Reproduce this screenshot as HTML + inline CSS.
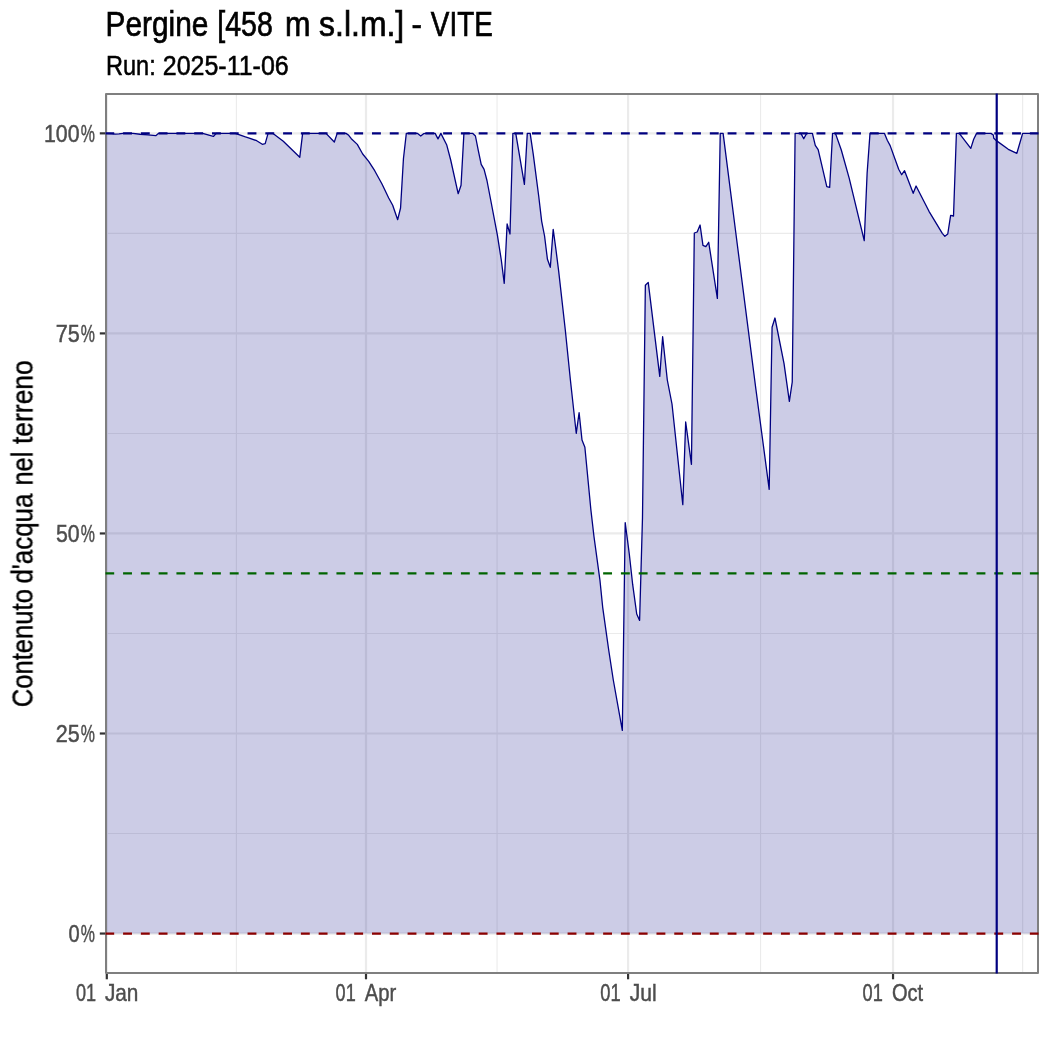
<!DOCTYPE html>
<html lang="it"><head><meta charset="utf-8"><title>Pergine [458 m s.l.m.] - VITE</title>
<style>
html,body{margin:0;padding:0;background:#fff;}
svg{display:block;}
text{font-family:'Liberation Sans', Arial, sans-serif;}
</style></head><body>
<svg width="1050" height="1050" viewBox="0 0 1050 1050">
<rect width="1050" height="1050" fill="#ffffff"/>
<defs><clipPath id="panel"><rect x="106.0" y="94.0" width="932.0" height="879.0"/></clipPath>
<clipPath id="panel2"><rect x="105.3" y="93.4" width="933.4" height="880.2"/></clipPath></defs>
<g clip-path="url(#panel)">
<g stroke="#ebebeb" stroke-width="1.1" fill="none">
<line x1="236.40" x2="236.40" y1="94.0" y2="973.0"/>
<line x1="497.04" x2="497.04" y1="94.0" y2="973.0"/>
<line x1="760.56" x2="760.56" y1="94.0" y2="973.0"/>
<line x1="1022.64" x2="1022.64" y1="94.0" y2="973.0"/>
<line x1="106.0" x2="1038.0" y1="833.52" y2="833.52"/>
<line x1="106.0" x2="1038.0" y1="633.47" y2="633.47"/>
<line x1="106.0" x2="1038.0" y1="433.43" y2="433.43"/>
<line x1="106.0" x2="1038.0" y1="233.38" y2="233.38"/>
</g><g stroke="#ebebeb" stroke-width="2.2" fill="none">
<line x1="106.80" x2="106.80" y1="94.0" y2="973.0"/>
<line x1="366.00" x2="366.00" y1="94.0" y2="973.0"/>
<line x1="628.08" x2="628.08" y1="94.0" y2="973.0"/>
<line x1="893.04" x2="893.04" y1="94.0" y2="973.0"/>
<line x1="106.0" x2="1038.0" y1="933.55" y2="933.55"/>
<line x1="106.0" x2="1038.0" y1="733.50" y2="733.50"/>
<line x1="106.0" x2="1038.0" y1="533.45" y2="533.45"/>
<line x1="106.0" x2="1038.0" y1="333.40" y2="333.40"/>
<line x1="106.0" x2="1038.0" y1="133.35" y2="133.35"/>
</g>
<path d="M106.0,133.35 L112,133.65 L115,134.15 L119,133.85 L123,133.35 L133,133.35 L140,134.25 L148,134.85 L155.76,135.65 L158.64,133.35 L202.7,133.35 L208,134.85 L213.36,136.45 L216.24,133.35 L235.3,133.35 L244.7,136.7 L250,138.3 L256.7,140.7 L262.32,144.3 L265.2,143.7 L268.08,133.35 L272.7,133.35 L283.3,141.3 L299.76,157.3 L302.64,133.35 L326,133.35 L334.32,142 L337.2,133.35 L346,133.35 L348.7,135.3 L351.3,138.7 L357.3,144.4 L362.7,154 L368.7,161.3 L374.7,170.7 L382,184 L388.7,198 L392.7,205.3 L397.68,219.7 L400.56,208 L403.44,158.7 L406.32,133.35 L417.3,133.35 L420.72,136 L423.6,133.65 L426,133.35 L435.12,133.35 L438.0,138.9 L440.88,133.35 L446.64,144.7 L450.7,160 L458.16,193.7 L461.04,185.3 L463.92,133.35 L472.56,133.35 L475.44,136 L478.32,150.7 L481.2,164.4 L484.08,169.3 L486.96,180.5 L490.7,200 L497.3,234.7 L501.3,260 L504.24,283.3 L507.12,224 L510.0,234 L512.88,133.35 L515.76,133.35 L524.4,184.4 L527.28,133.35 L530.16,133.35 L533.3,154.7 L538.7,196 L541.68,221.3 L544.56,236 L547.44,259.3 L550.32,267.3 L553.2,229.3 L556,250 L558.7,271.3 L565.3,330 L570.4,380 L576.24,433.3 L579.12,412.7 L582.0,440 L584.88,447.3 L590.9,510 L594,536.7 L600,580.7 L602.7,607.3 L608.7,650 L613.3,680 L622.32,730.4 L625.2,522.7 L629.3,554 L632.7,584.7 L636.72,614 L639.6,620.4 L642.48,518 L645.36,285.3 L648.24,282.4 L659.76,376.4 L662.64,336.7 L667.3,380 L672,404 L682.8,504.7 L685.68,422 L691.44,464.3 L694.32,233 L697.2,232 L700.08,225 L702.96,245.3 L705.84,246.7 L708.72,242.3 L717.36,298.4 L720.24,133.35 L723.12,133.35 L738,250 L756,390 L769.2,489.3 L772.08,327.3 L774.96,318 L784,363.3 L789.36,401.3 L792.24,382 L795.12,133.35 L800.88,133.35 L803.76,138.7 L806.64,133.35 L812.4,133.35 L815.28,145.3 L818.16,149.6 L826.8,186.7 L829.68,187.3 L832.56,133.35 L835.44,133.35 L841.3,150 L849.3,178.7 L864.24,240.7 L867.12,173.3 L870.0,133.35 L884.4,133.35 L887.28,140.3 L890.16,145.6 L898.7,169.3 L901.68,174.7 L904.56,170.7 L913.2,193.3 L916.08,186 L929,211.3 L942.3,233.3 L944.88,236.3 L947.76,234 L950.64,215.3 L953.52,216 L956.4,133.35 L959.28,133.35 L970.8,148.4 L973.68,139.3 L976.56,133.35 L990.96,133.35 L993.3,135 L993.84,138.3 L996.72,140.9 L1008.3,149.3 L1016.88,153.3 L1022.64,133.35 L1038.0,133.35 L1038.0,933.55 L106.0,933.55 Z" fill="#000080" fill-opacity="0.2" stroke="none"/>
<path d="M106.0,133.35 L112,133.65 L115,134.15 L119,133.85 L123,133.35 L133,133.35 L140,134.25 L148,134.85 L155.76,135.65 L158.64,133.35 L202.7,133.35 L208,134.85 L213.36,136.45 L216.24,133.35 L235.3,133.35 L244.7,136.7 L250,138.3 L256.7,140.7 L262.32,144.3 L265.2,143.7 L268.08,133.35 L272.7,133.35 L283.3,141.3 L299.76,157.3 L302.64,133.35 L326,133.35 L334.32,142 L337.2,133.35 L346,133.35 L348.7,135.3 L351.3,138.7 L357.3,144.4 L362.7,154 L368.7,161.3 L374.7,170.7 L382,184 L388.7,198 L392.7,205.3 L397.68,219.7 L400.56,208 L403.44,158.7 L406.32,133.35 L417.3,133.35 L420.72,136 L423.6,133.65 L426,133.35 L435.12,133.35 L438.0,138.9 L440.88,133.35 L446.64,144.7 L450.7,160 L458.16,193.7 L461.04,185.3 L463.92,133.35 L472.56,133.35 L475.44,136 L478.32,150.7 L481.2,164.4 L484.08,169.3 L486.96,180.5 L490.7,200 L497.3,234.7 L501.3,260 L504.24,283.3 L507.12,224 L510.0,234 L512.88,133.35 L515.76,133.35 L524.4,184.4 L527.28,133.35 L530.16,133.35 L533.3,154.7 L538.7,196 L541.68,221.3 L544.56,236 L547.44,259.3 L550.32,267.3 L553.2,229.3 L556,250 L558.7,271.3 L565.3,330 L570.4,380 L576.24,433.3 L579.12,412.7 L582.0,440 L584.88,447.3 L590.9,510 L594,536.7 L600,580.7 L602.7,607.3 L608.7,650 L613.3,680 L622.32,730.4 L625.2,522.7 L629.3,554 L632.7,584.7 L636.72,614 L639.6,620.4 L642.48,518 L645.36,285.3 L648.24,282.4 L659.76,376.4 L662.64,336.7 L667.3,380 L672,404 L682.8,504.7 L685.68,422 L691.44,464.3 L694.32,233 L697.2,232 L700.08,225 L702.96,245.3 L705.84,246.7 L708.72,242.3 L717.36,298.4 L720.24,133.35 L723.12,133.35 L738,250 L756,390 L769.2,489.3 L772.08,327.3 L774.96,318 L784,363.3 L789.36,401.3 L792.24,382 L795.12,133.35 L800.88,133.35 L803.76,138.7 L806.64,133.35 L812.4,133.35 L815.28,145.3 L818.16,149.6 L826.8,186.7 L829.68,187.3 L832.56,133.35 L835.44,133.35 L841.3,150 L849.3,178.7 L864.24,240.7 L867.12,173.3 L870.0,133.35 L884.4,133.35 L887.28,140.3 L890.16,145.6 L898.7,169.3 L901.68,174.7 L904.56,170.7 L913.2,193.3 L916.08,186 L929,211.3 L942.3,233.3 L944.88,236.3 L947.76,234 L950.64,215.3 L953.52,216 L956.4,133.35 L959.28,133.35 L970.8,148.4 L973.68,139.3 L976.56,133.35 L990.96,133.35 L993.3,135 L993.84,138.3 L996.72,140.9 L1008.3,149.3 L1016.88,153.3 L1022.64,133.35 L1038.0,133.35" fill="none" stroke="#000080" stroke-width="1.3" stroke-linejoin="round" stroke-linecap="butt"/>
</g>
<rect x="106.0" y="94.0" width="932.0" height="879.0" fill="none" stroke="#7f7f7f" stroke-width="2.0" stroke-linejoin="round"/>
<g clip-path="url(#panel2)">
<line x1="105.3" x2="1040.0" y1="133.35" y2="133.35" stroke="#000080" stroke-width="2.2" stroke-dasharray="8.89 8.89"/>
<line x1="105.3" x2="1040.0" y1="573.46" y2="573.46" stroke="#006400" stroke-width="2.2" stroke-dasharray="8.89 8.89"/>
<line x1="105.3" x2="1040.0" y1="933.55" y2="933.55" stroke="#8b0000" stroke-width="2.2" stroke-dasharray="8.89 8.89"/>
<line x1="996.72" x2="996.72" y1="92.0" y2="975.0" stroke="#000080" stroke-width="2.2"/>
</g>
<g stroke="#333333" stroke-width="2.2" fill="none">
<line x1="106.80" x2="106.80" y1="974.0" y2="979.3"/>
<line x1="366.00" x2="366.00" y1="974.0" y2="979.3"/>
<line x1="628.08" x2="628.08" y1="974.0" y2="979.3"/>
<line x1="893.04" x2="893.04" y1="974.0" y2="979.3"/>
<line x1="99.8" x2="105.0" y1="933.55" y2="933.55"/>
<line x1="99.8" x2="105.0" y1="733.50" y2="733.50"/>
<line x1="99.8" x2="105.0" y1="533.45" y2="533.45"/>
<line x1="99.8" x2="105.0" y1="333.40" y2="333.40"/>
<line x1="99.8" x2="105.0" y1="133.35" y2="133.35"/>
</g>
<defs><mask id="tm" maskUnits="userSpaceOnUse" x="0" y="0" width="1050" height="1050"><rect width="1050" height="1050" fill="#fff"/></mask></defs>
<g mask="url(#tm)">
<text x="44.00" y="141.5" font-size="23.2" fill="#4d4d4d" stroke="#4d4d4d" stroke-width="0.45" textLength="35.62" lengthAdjust="spacingAndGlyphs">100</text>
<text x="80.84" y="141.5" font-size="23.2" fill="#4d4d4d" stroke="#4d4d4d" stroke-width="0.45" textLength="14.14" lengthAdjust="spacingAndGlyphs">%</text>
<text x="55.66" y="341.6" font-size="23.2" fill="#4d4d4d" stroke="#4d4d4d" stroke-width="0.45" textLength="24.05" lengthAdjust="spacingAndGlyphs">75</text>
<text x="80.84" y="341.6" font-size="23.2" fill="#4d4d4d" stroke="#4d4d4d" stroke-width="0.45" textLength="14.14" lengthAdjust="spacingAndGlyphs">%</text>
<text x="55.95" y="541.6" font-size="23.2" fill="#4d4d4d" stroke="#4d4d4d" stroke-width="0.45" textLength="23.70" lengthAdjust="spacingAndGlyphs">50</text>
<text x="80.84" y="541.6" font-size="23.2" fill="#4d4d4d" stroke="#4d4d4d" stroke-width="0.45" textLength="14.14" lengthAdjust="spacingAndGlyphs">%</text>
<text x="55.72" y="741.7" font-size="23.2" fill="#4d4d4d" stroke="#4d4d4d" stroke-width="0.45" textLength="23.99" lengthAdjust="spacingAndGlyphs">25</text>
<text x="80.84" y="741.7" font-size="23.2" fill="#4d4d4d" stroke="#4d4d4d" stroke-width="0.45" textLength="14.14" lengthAdjust="spacingAndGlyphs">%</text>
<text x="68.40" y="941.8" font-size="23.2" fill="#4d4d4d" stroke="#4d4d4d" stroke-width="0.45" textLength="11.18" lengthAdjust="spacingAndGlyphs">0</text>
<text x="80.84" y="941.8" font-size="23.2" fill="#4d4d4d" stroke="#4d4d4d" stroke-width="0.45" textLength="14.14" lengthAdjust="spacingAndGlyphs">%</text>
<text x="75.98" y="1000.8" font-size="23.2" fill="#4d4d4d" stroke="#4d4d4d" stroke-width="0.45" textLength="20.13" lengthAdjust="spacingAndGlyphs">01</text>
<text x="104.89" y="1000.8" font-size="23.2" fill="#4d4d4d" stroke="#4d4d4d" stroke-width="0.45" textLength="33.51" lengthAdjust="spacingAndGlyphs">Jan</text>
<text x="335.58" y="1000.8" font-size="23.2" fill="#4d4d4d" stroke="#4d4d4d" stroke-width="0.45" textLength="20.13" lengthAdjust="spacingAndGlyphs">01</text>
<text x="364.85" y="1000.8" font-size="23.2" fill="#4d4d4d" stroke="#4d4d4d" stroke-width="0.45" textLength="31.48" lengthAdjust="spacingAndGlyphs">Apr</text>
<text x="600.22" y="1000.8" font-size="23.2" fill="#4d4d4d" stroke="#4d4d4d" stroke-width="0.45" textLength="20.40" lengthAdjust="spacingAndGlyphs">01</text>
<text x="629.68" y="1000.8" font-size="23.2" fill="#4d4d4d" stroke="#4d4d4d" stroke-width="0.45" textLength="26.96" lengthAdjust="spacingAndGlyphs">Jul</text>
<text x="862.57" y="1000.8" font-size="23.2" fill="#4d4d4d" stroke="#4d4d4d" stroke-width="0.45" textLength="20.23" lengthAdjust="spacingAndGlyphs">01</text>
<text x="891.95" y="1000.8" font-size="23.2" fill="#4d4d4d" stroke="#4d4d4d" stroke-width="0.45" textLength="31.22" lengthAdjust="spacingAndGlyphs">Oct</text>
<text x="105.54" y="36.4" font-size="34.2" fill="#000000" stroke="#000000" stroke-width="0.7" textLength="102.78" lengthAdjust="spacingAndGlyphs">Pergine</text>
<text x="217.33" y="36.4" font-size="34.2" fill="#000000" stroke="#000000" stroke-width="0.7" textLength="55.52" lengthAdjust="spacingAndGlyphs">[458</text>
<text x="284.94" y="36.4" font-size="34.2" fill="#000000" stroke="#000000" stroke-width="0.7" textLength="25.47" lengthAdjust="spacingAndGlyphs">m</text>
<text x="319.12" y="36.4" font-size="34.2" fill="#000000" stroke="#000000" stroke-width="0.7" textLength="85.08" lengthAdjust="spacingAndGlyphs">s.l.m.]</text>
<text x="411.59" y="36.4" font-size="34.2" fill="#000000" stroke="#000000" stroke-width="0.7" textLength="10.44" lengthAdjust="spacingAndGlyphs">-</text>
<text x="430.86" y="36.4" font-size="34.2" fill="#000000" stroke="#000000" stroke-width="0.7" textLength="61.93" lengthAdjust="spacingAndGlyphs">VITE</text>
<text x="106.06" y="75.4" font-size="28.2" fill="#000000" stroke="#000000" stroke-width="0.55" textLength="49.65" lengthAdjust="spacingAndGlyphs">Run:</text>
<text x="162.75" y="75.4" font-size="28.2" fill="#000000" stroke="#000000" stroke-width="0.55" textLength="125.94" lengthAdjust="spacingAndGlyphs">2025-11-06</text>
<g transform="translate(32.5,706) rotate(-90)">
<text x="-1.28" y="0" font-size="28.6" fill="#000000" stroke="#000000" stroke-width="0.4" textLength="118.20" lengthAdjust="spacingAndGlyphs">Contenuto</text>
<text x="122.40" y="0" font-size="28.6" fill="#000000" stroke="#000000" stroke-width="0.4" textLength="90.05" lengthAdjust="spacingAndGlyphs">d&#39;acqua</text>
<text x="220.38" y="0" font-size="28.6" fill="#000000" stroke="#000000" stroke-width="0.4" textLength="33.92" lengthAdjust="spacingAndGlyphs">nel</text>
<text x="262.00" y="0" font-size="28.6" fill="#000000" stroke="#000000" stroke-width="0.4" textLength="83.78" lengthAdjust="spacingAndGlyphs">terreno</text>
</g></g>
</svg></body></html>
